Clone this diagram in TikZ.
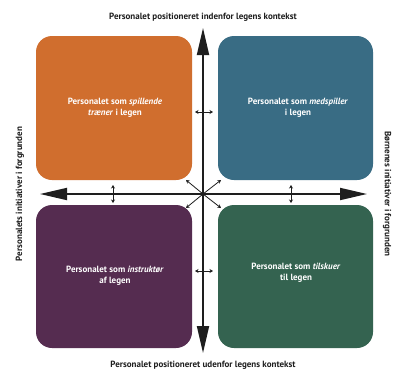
\documentclass[tikz,border=0pt]{standalone}
\usepackage{fontspec}
\setmainfont{PT Sans}
\usetikzlibrary{arrows.meta}
\definecolor{qorange}{RGB}{208,110,46}
\definecolor{qblue}{RGB}{57,108,132}
\definecolor{qpurple}{RGB}{85,44,80}
\definecolor{qgreen}{RGB}{52,99,80}
\definecolor{qline}{RGB}{30,30,30}
\begin{document}
\begin{tikzpicture}[x=1pt,y=-1pt,
  quad/.style={rounded corners=16pt, minimum width=156pt, minimum height=144pt, text=white,
    font=\bfseries\fontsize{9}{11}\selectfont, align=center, inner sep=0pt},
  axislabel/.style={font=\bfseries\fontsize{9}{10}\selectfont, text=qline, inner sep=0pt},
  axis/.style={draw=qline, line width=1.8pt, {Triangle[length=27pt,width=12pt]}-{Triangle[length=27pt,width=12pt]}},
  small/.style={draw=qline, line width=0.8pt, {Stealth[length=3.5pt,width=4pt]}-{Stealth[length=3.5pt,width=4pt]}},
  diag/.style={draw=qline, line width=0.8pt, -{Stealth[length=3.5pt,width=4pt]}}]
\useasboundingbox (0,0) rectangle (393,370);
\fill[white] (0,0) rectangle (393,370);
\node[quad, fill=qorange] (tl) at (114,108) {};
\node[quad, fill=qblue, minimum width=155pt] (tr) at (295.5,108) {};
\node[quad, fill=qpurple, minimum height=143pt] (bl) at (114,276.5) {};
\node[quad, fill=qgreen, minimum width=155pt, minimum height=143pt] (br) at (295.5,276.5) {};
\node[quad, minimum width=0pt, minimum height=0pt] (tltext) at (115,108) {Personalet som \textit{spillende}\\\textit{træner} i legen};
\node[quad, minimum width=0pt, minimum height=0pt] (trtext) at (298,108) {Personalet som \textit{medspiller}\\i legen};
\node[quad, minimum width=0pt, minimum height=0pt] (bltext) at (115,276) {Personalet som \textit{instruktør}\\af legen};
\node[quad, minimum width=0pt, minimum height=0pt] (brtext) at (296,273) {Personalet som \textit{tilskuer}\\til legen};
% axes
\coordinate (c) at (203,194);
\coordinate (L) at (40,194);
\coordinate (R) at (367,194);
\coordinate (T) at (203,28);
\coordinate (B) at (203,353);
\draw[axis] (L) -- (R);
\draw[axis] (B) -- (T);
% diagonals
\coordinate (d1) at (186,180);
\coordinate (d2) at (221,180);
\coordinate (d3) at (186,208);
\coordinate (d4) at (221,208);
\foreach \d in {d1,d2,d3,d4} \draw[diag] (c) -- (\d);
\fill[qline] (c) circle (2pt);
% small double arrows
\coordinate (h1a) at (195,112); \coordinate (h1b) at (213,112);
\coordinate (h2a) at (195,271); \coordinate (h2b) at (213,271);
\coordinate (v1a) at (113,185); \coordinate (v1b) at (113,203);
\coordinate (v2a) at (291,185); \coordinate (v2b) at (291,203);
\draw[small] (h1a) -- (h1b);
\draw[small] (h2a) -- (h2b);
\draw[small] (v1a) -- (v1b);
\draw[small] (v2a) -- (v2b);
% labels
\node[axislabel] (top) at (203,17) {Personalet positioneret indenfor legens kontekst};
\node[axislabel] (bot) at (203,365) {Personalet positioneret udenfor legens kontekst};
\node[axislabel, rotate=90] (left) at (20,194) {Personalets initiativer i forgrunden};
\node[axislabel, rotate=-90] (right) at (387,194) {Børnenes initiativer i forgrunden};
\end{tikzpicture}
\end{document}
